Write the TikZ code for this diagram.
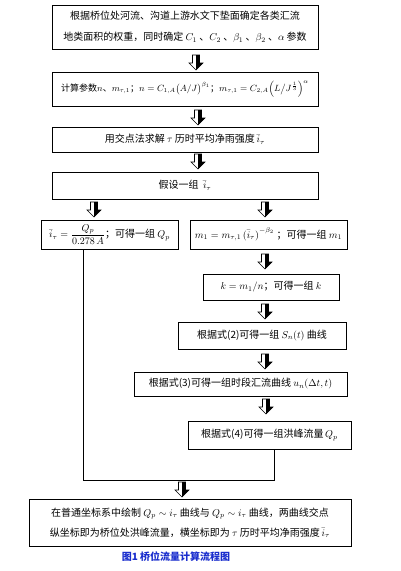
\documentclass[tikz,border=0pt]{standalone}
\usepackage{amsmath}
\usepackage{fontspec}
\setmainfont{Noto Sans CJK SC}
\definecolor{capblue}{RGB}{25,45,205}

\begin{document}
\begin{tikzpicture}[x=1pt, y=-1pt, font=\fontsize{10}{13}\selectfont,
    box/.style={draw, line width=0.8pt, inner sep=0pt, align=center},
    blockdn/.pic={
      \filldraw[fill=white, line width=0.6pt] (-3.5,0) -- (3.5,0) -- (3.5,8)
          -- (7,8) -- (0,15) -- (-7,8) -- (-3.5,8) -- cycle;
      \fill (0,0) -- (3.5,0) -- (3.5,8) -- (7,8) -- (0,15) -- cycle;
    }]
    \useasboundingbox (0,0) rectangle (401,571);

    %% main column
    \node[box, minimum width=266pt, minimum height=44pt,
          font=\fontsize{10}{21}\selectfont] (weight) at (185,27)
        {根据桥位处河流、沟道上游水文下垫面确定各类汇流\\
         地类面积的权重，同时确定 $C_1$ 、$C_2$ 、$\beta_1$ 、$\beta_2$ 、$\alpha$ 参数};
    \node[box, minimum width=266pt, minimum height=34pt,
          font=\fontsize{9}{12}\selectfont] (param) at (185,89)
        {计算参数$n$、$m_{\tau,1}$；$n=C_{1,A}\bigl(A/J\bigr)^{\beta_1}$；%
         $m_{\tau,1}=C_{2,A}\Bigl(L\big/J^{\frac{1}{3}}\Bigr)^{\alpha}$};
    \node[box, minimum width=266pt, minimum height=25pt] (solve) at (185,139.5)
        {用交点法求解 $\tau$ 历时平均净雨强度\,$\bar{i}_\tau$};
    \node[box, minimum width=266pt, minimum height=27pt] (guess) at (185,185.5)
        {假设一组\ \ $\bar{i}_\tau$};

    %% two branches
    \node[box, minimum width=137pt, minimum height=29pt] (qp) at (109.5,234.5)
        {$\bar{i}_\tau=\dfrac{Q_p}{0.278\,A}$；可得一组 $Q_p$};
    \node[box, minimum width=157pt, minimum height=29pt] (mone) at (268.5,234.5)
        {$m_1=m_{\tau,1}\left(\bar{i}_\tau\right)^{-\beta_2}$ ；可得一组 $m_1$};
    \node[box, minimum width=136pt, minimum height=26pt] (kval) at (271,287)
        {$k=m_1/n$；可得一组 $k$};
    \node[box, minimum width=168pt, minimum height=27pt] (scurve) at (262,335.5)
        {根据式(2)可得一组 $S_n(t)$ 曲线};
    \node[box, minimum width=213pt, minimum height=24pt] (ucurve) at (240.5,384)
        {根据式(3)可得一组时段汇流曲线 $u_n(\Delta t,t)$};
    \node[box, minimum width=163pt, minimum height=28pt] (peak) at (269.5,435)
        {根据式(4)可得一组洪峰流量\,$Q_p$};

    %% result
    \node[box, minimum width=322pt, minimum height=47pt,
          font=\fontsize{10}{20}\selectfont] (result) at (190,522.5)
        {在普通坐标系中绘制 $Q_p\sim i_\tau$ 曲线与 $Q_p\sim i_\tau$ 曲线，两曲线交点\\
         纵坐标即为桥位处洪峰流量，横坐标即为 $\tau$ 历时平均净雨强度\,$\bar{i}_\tau$};

    \node[text=capblue, font=\bfseries\fontsize{10}{12}\selectfont] (caption)
        at (176,557) {图1\ 桥位流量计算流程图};

    %% block arrows
    \foreach \x/\y in {196/55, 198/110, 198/154, 94/202, 265/202,
                       265/254, 265/304, 265/354, 266/399, 182/482}
      \pic at (\x,\y) {blockdn};

    %% joining lines
    \coordinate (jl) at (83,480);
    \coordinate (jr) at (274,480);
    \draw[line width=0.8pt] (qp.south -| jl) -- (jl) -- (jr) -- (peak.south -| jr);

\end{tikzpicture}
\end{document}
